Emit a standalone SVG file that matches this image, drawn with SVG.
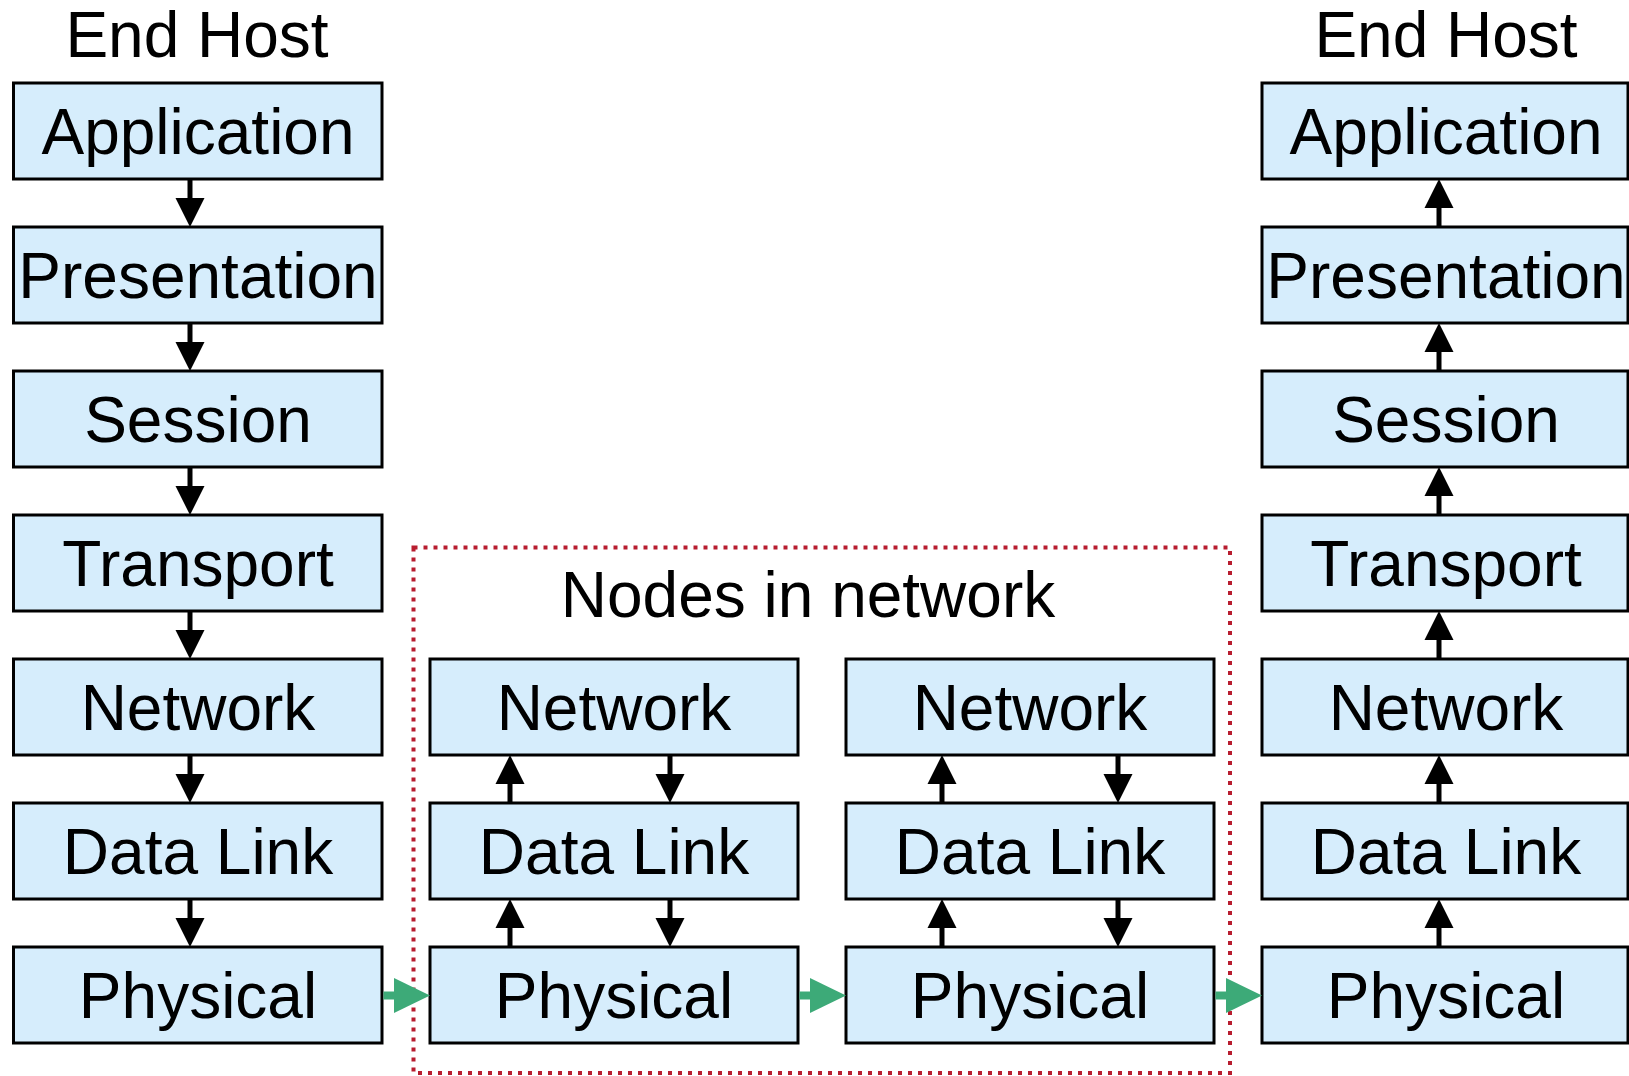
<svg xmlns="http://www.w3.org/2000/svg" width="1629" height="1076" viewBox="0 0 1629 1076">
<style>
.box{fill:#d6edfc;stroke:#000;stroke-width:3}
.t{font-family:"Liberation Sans",Arial,sans-serif;font-size:64px;fill:#000;text-anchor:middle}
.c{stroke:#000;stroke-width:5;fill:none}
.g{stroke:#3daa78;stroke-width:8;fill:none}
</style>
<defs>
<marker id="ah" markerUnits="userSpaceOnUse" markerWidth="29" markerHeight="29" refX="0" refY="14.5" orient="auto" overflow="visible">
<path d="M0,0 L29,14.5 L0,29 z" fill="#000"/>
</marker>
<marker id="gh" markerUnits="userSpaceOnUse" markerWidth="36" markerHeight="35" refX="0" refY="17.5" orient="auto" overflow="visible">
<path d="M0,0 L36,17.5 L0,35 z" fill="#3daa78"/>
</marker>
</defs>
<rect id="network-boundary" x="413.5" y="547.5" width="816.5" height="525.5" fill="none" stroke="#b81d2f" stroke-width="4" stroke-dasharray="4 6"/>
<text class="t" x="197" y="57">End Host</text>
<text class="t" x="1446" y="57">End Host</text>
<text class="t" x="808" y="617">Nodes in network</text>
<g id="left-application"><rect class="box" x="13.5" y="83" width="368.5" height="96"/><text class="t" x="198" y="154">Application</text></g>
<g id="left-presentation"><rect class="box" x="13.5" y="227" width="368.5" height="96"/><text class="t" x="198" y="298">Presentation</text></g>
<g id="left-session"><rect class="box" x="13.5" y="371" width="368.5" height="96"/><text class="t" x="198" y="442">Session</text></g>
<g id="left-transport"><rect class="box" x="13.5" y="515" width="368.5" height="96"/><text class="t" x="198" y="586">Transport</text></g>
<g id="left-network"><rect class="box" x="13.5" y="659" width="368.5" height="96"/><text class="t" x="198" y="730">Network</text></g>
<g id="left-datalink"><rect class="box" x="13.5" y="803" width="368.5" height="96"/><text class="t" x="198" y="874">Data Link</text></g>
<g id="left-physical"><rect class="box" x="13.5" y="947" width="368.5" height="96"/><text class="t" x="198" y="1018">Physical</text></g>
<g id="mid1-network"><rect class="box" x="430" y="659" width="368" height="96"/><text class="t" x="614" y="730">Network</text></g>
<g id="mid1-datalink"><rect class="box" x="430" y="803" width="368" height="96"/><text class="t" x="614" y="874">Data Link</text></g>
<g id="mid1-physical"><rect class="box" x="430" y="947" width="368" height="96"/><text class="t" x="614" y="1018">Physical</text></g>
<g id="mid2-network"><rect class="box" x="846" y="659" width="368" height="96"/><text class="t" x="1030" y="730">Network</text></g>
<g id="mid2-datalink"><rect class="box" x="846" y="803" width="368" height="96"/><text class="t" x="1030" y="874">Data Link</text></g>
<g id="mid2-physical"><rect class="box" x="846" y="947" width="368" height="96"/><text class="t" x="1030" y="1018">Physical</text></g>
<g id="right-application"><rect class="box" x="1262" y="83" width="366" height="96"/><text class="t" x="1446" y="154">Application</text></g>
<g id="right-presentation"><rect class="box" x="1262" y="227" width="366" height="96"/><text class="t" x="1446" y="298">Presentation</text></g>
<g id="right-session"><rect class="box" x="1262" y="371" width="366" height="96"/><text class="t" x="1446" y="442">Session</text></g>
<g id="right-transport"><rect class="box" x="1262" y="515" width="366" height="96"/><text class="t" x="1446" y="586">Transport</text></g>
<g id="right-network"><rect class="box" x="1262" y="659" width="366" height="96"/><text class="t" x="1446" y="730">Network</text></g>
<g id="right-datalink"><rect class="box" x="1262" y="803" width="366" height="96"/><text class="t" x="1446" y="874">Data Link</text></g>
<g id="right-physical"><rect class="box" x="1262" y="947" width="366" height="96"/><text class="t" x="1446" y="1018">Physical</text></g>
<g id="connectors">
<path class="c" marker-end="url(#ah)" d="M190,180 V198"/>
<path class="c" marker-end="url(#ah)" d="M190,324 V342"/>
<path class="c" marker-end="url(#ah)" d="M190,468 V486"/>
<path class="c" marker-end="url(#ah)" d="M190,612 V630"/>
<path class="c" marker-end="url(#ah)" d="M190,756 V774"/>
<path class="c" marker-end="url(#ah)" d="M190,900 V918"/>
<path class="c" marker-end="url(#ah)" d="M1439,226 V208"/>
<path class="c" marker-end="url(#ah)" d="M1439,370 V352"/>
<path class="c" marker-end="url(#ah)" d="M1439,514 V496"/>
<path class="c" marker-end="url(#ah)" d="M1439,658 V640"/>
<path class="c" marker-end="url(#ah)" d="M1439,802 V784"/>
<path class="c" marker-end="url(#ah)" d="M1439,946 V928"/>
<path class="c" marker-end="url(#ah)" d="M510,802 V784"/>
<path class="c" marker-end="url(#ah)" d="M510,946 V928"/>
<path class="c" marker-end="url(#ah)" d="M670,756 V774"/>
<path class="c" marker-end="url(#ah)" d="M670,900 V918"/>
<path class="c" marker-end="url(#ah)" d="M942,802 V784"/>
<path class="c" marker-end="url(#ah)" d="M942,946 V928"/>
<path class="c" marker-end="url(#ah)" d="M1118,756 V774"/>
<path class="c" marker-end="url(#ah)" d="M1118,900 V918"/>
<path class="g" marker-end="url(#gh)" d="M383.5,995.5 H394"/>
<path class="g" marker-end="url(#gh)" d="M799.5,995.5 H810"/>
<path class="g" marker-end="url(#gh)" d="M1215.5,995.5 H1226"/>
</g>
</svg>
